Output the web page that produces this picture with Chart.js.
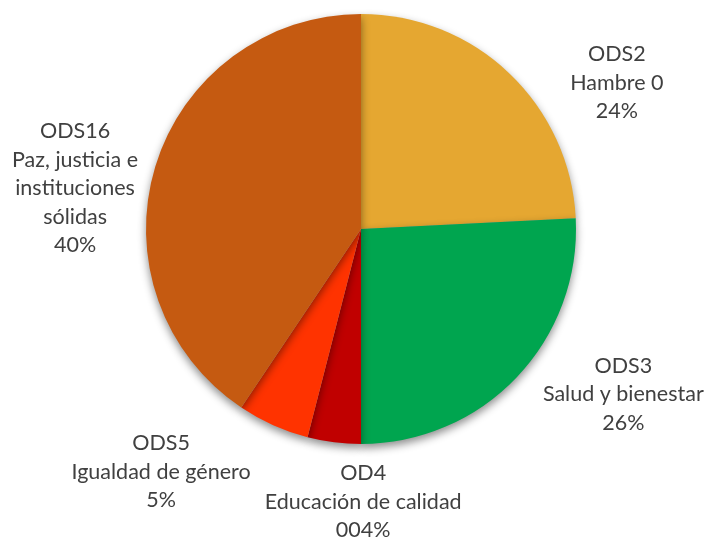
<!DOCTYPE html>
<html>
<head>
<meta charset="utf-8">
<script src="https://cdn.jsdelivr.net/npm/chart.js@4"></script>
<style>
html,body{margin:0;padding:0;background:#fff;}
#wrap{width:707px;height:542px;position:relative;}
</style>
</head>
<body>
<div id="wrap"><canvas id="c" width="707" height="542"></canvas></div>
<script>
// Data
const categories = ["ODS2", "ODS3", "OD4", "ODS5", "ODS16"];
const descriptions = ["Hambre 0", "Salud y bienestar", "Educación de calidad", "Igualdad de género", "Paz, justicia e|instituciones|sólidas"];
const values = [24.2, 25.8, 4.0, 5.4, 40.6];
const percentLabels = ["24%", "26%", "004%", "5%", "40%"];
const colors = ["#E5A731", "#00A54F", "#C00000", "#FF3300", "#C55A11"];

// Label placement, as fractions of the radius from the pie centre
const labelOffsets = [[1.19, -0.68], [1.22, 0.77], [0.01, 1.27], [-0.93, 1.13], [-1.33, -0.19]];

const shadowPlugin = {
  id: 'shadow',
  beforeDatasetDraw(chart) {
    const ctx = chart.ctx;
    ctx.save();
    ctx.shadowColor = 'rgba(0,0,0,0.45)';
    ctx.shadowBlur = 9;
    ctx.shadowOffsetX = 0;
    ctx.shadowOffsetY = 4;
  },
  afterDatasetDraw(chart) {
    chart.ctx.restore();
  }
};

const labelPlugin = {
  id: 'outLabels',
  afterDatasetsDraw(chart) {
    const ctx = chart.ctx;
    const meta = chart.getDatasetMeta(0);
    ctx.save();
    ctx.fillStyle = '#404040';
    ctx.font = '21.5px Lato, "Open Sans", sans-serif';
    ctx.textAlign = 'center';
    ctx.textBaseline = 'middle';
    const lh = 28.5;
    meta.data.forEach((arc, i) => {
      const r = arc.outerRadius;
      const cx = arc.x + labelOffsets[i][0] * r;
      const cy = arc.y + labelOffsets[i][1] * r;
      const lines = [categories[i]].concat(descriptions[i].split('|')).concat([percentLabels[i]]);
      const top = cy - (lines.length - 1) * lh / 2;
      lines.forEach((t, k) => ctx.fillText(t, cx, top + k * lh));
    });
    ctx.restore();
  }
};

new Chart(document.getElementById('c'), {
  type: 'pie',
  data: {
    labels: categories,
    datasets: [{
      data: values,
      backgroundColor: colors,
      borderWidth: 0
    }]
  },
  options: {
    responsive: false,
    animation: false,
    layout: { padding: { left: 146, right: 131, top: 14, bottom: 98 } },
    plugins: { legend: { display: false }, tooltip: { enabled: false } }
  },
  plugins: [shadowPlugin, labelPlugin]
});
</script>
</body>
</html>
